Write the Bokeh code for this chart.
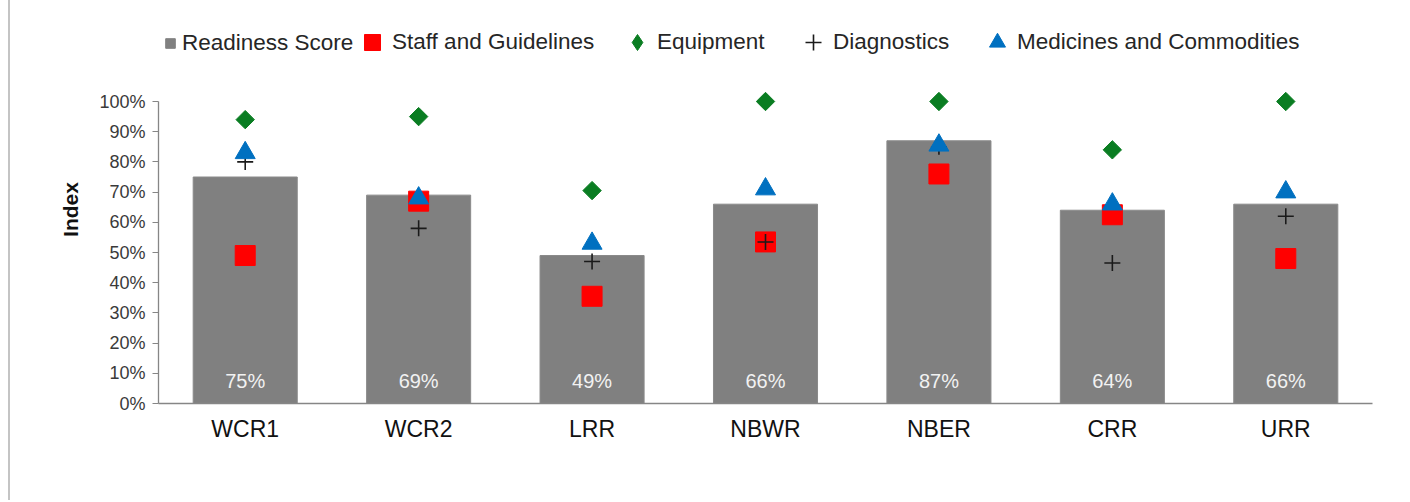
import numpy as np
from bokeh.plotting import figure
from bokeh.models import (FactorRange, Legend, LegendItem, NumeralTickFormatter,
                          FixedTicker, ColumnDataSource)
from bokeh.core.properties import value
from bokeh.embed import file_html
from bokeh.resources import INLINE

regions = ["WCR1", "WCR2", "LRR", "NBWR", "NBER", "CRR", "URR"]
readiness = [0.75, 0.69, 0.49, 0.66, 0.87, 0.64, 0.66]
staff = [0.49, 0.67, 0.355, 0.535, 0.76, 0.625, 0.48]
equipment = [0.94, 0.95, 0.705, 1.00, 1.00, 0.84, 1.00]
diagnostics = [0.80, 0.58, 0.47, 0.535, 0.85, 0.465, 0.62]
medicines = [0.83, 0.68, 0.53, 0.71, 0.855, 0.66, 0.70]
y_ticks = [0.0, 0.1, 0.2, 0.3, 0.4, 0.5, 0.6, 0.7, 0.8, 0.9, 1.0]
series_names = ["Readiness Score", "Staff and Guidelines", "Equipment",
                "Diagnostics", "Medicines and Commodities"]

FONT = "Liberation Sans"
W, H = 1400, 500
GRAY, RED, GREEN, BLUE, BLACK = "#808080", "#ff0000", "#0a7d22", "#0070c0", "#1a1a1a"

src = ColumnDataSource(dict(
    x=regions, readiness=readiness, staff=staff, equipment=equipment,
    diagnostics=diagnostics, medicines=medicines,
    lbl=[f"{v:.0%}" for v in readiness],
))

p = figure(x_range=FactorRange(*regions, range_padding=0), y_range=(0, 1.2848),
           width=W, height=H, output_backend="svg", toolbar_location=None,
           min_border_left=148, min_border_right=38, min_border_top=15,
           min_border_bottom=97)
p.styles = {"border-left": "2px solid #c4c4c4", "margin-left": "8px"}
p.outline_line_color = None
p.xgrid.visible = False
p.ygrid.visible = False
p.background_fill_color = "white"
p.border_fill_color = "white"

p.vbar(x="x", top="readiness", width=0.6, source=src,
       fill_color=GRAY, line_color="#8a8a8a", line_width=1)
p.text(x="x", y=0, text="lbl", source=src, y_offset=-23,
       text_align="center", text_baseline="middle", text_color="#f2f2f2",
       text_font=value(FONT), text_font_size="20px")

p.scatter(x="x", y="staff", source=src, marker="square", size=20,
          fill_color=RED, line_color=RED)
p.scatter(x="x", y="equipment", source=src, marker="square", size=13,
          angle=np.pi / 4, fill_color=GREEN, line_color=GREEN)
p.scatter(x="x", y="diagnostics", source=src, marker="cross", size=16,
          line_color=BLACK, line_width=1.6)
p.scatter(x="x", y="medicines", source=src, marker="triangle", size=20,
          fill_color=BLUE, line_color=BLUE)

# hidden renderers used only as legend swatches
k_bar = p.scatter(x="x", y="readiness", source=src, marker="square",
                  fill_color=GRAY, line_color=GRAY, visible=False)
k_staff = p.scatter(x="x", y="staff", source=src, marker="square",
                    fill_color=RED, line_color=RED, visible=False)
k_equip = p.scatter(x="x", y="equipment", source=src, marker="diamond",
                    fill_color=GREEN, line_color=GREEN, visible=False)
k_diag = p.scatter(x="x", y="diagnostics", source=src, marker="cross",
                   line_color=BLACK, line_width=1.6, visible=False)
k_med = p.scatter(x="x", y="medicines", source=src, marker="triangle",
                  fill_color=BLUE, line_color=BLUE, visible=False)
keys = [k_bar, k_staff, k_equip, k_diag, k_med]

yax = p.yaxis[0]
yax.ticker = FixedTicker(ticks=y_ticks)
yax.formatter = NumeralTickFormatter(format="0%")
yax.bounds = (0, 1)
yax.axis_line_color = "#868686"
yax.axis_line_width = 1.3
yax.major_tick_line_color = "#868686"
yax.major_tick_out = 6
yax.major_tick_in = 0
yax.minor_tick_line_color = None
yax.major_label_text_font = FONT
yax.major_label_text_font_size = "18px"
yax.major_label_text_color = "#3a3a3a"
yax.major_label_standoff = 7
yax.axis_label = "Index"
yax.axis_label_text_font = FONT
yax.axis_label_text_font_size = "21px"
yax.axis_label_text_font_style = "bold"
yax.axis_label_text_color = "#111111"
yax.axis_label_standoff = 14

xax = p.xaxis[0]
xax.axis_line_color = "#868686"
xax.axis_line_width = 1.3
xax.major_tick_line_color = None
xax.major_tick_out = 0
xax.minor_tick_line_color = None
xax.major_label_text_font = FONT
xax.major_label_text_font_size = "23px"
xax.major_label_text_color = "#111111"
xax.major_label_standoff = 12

# one single-item legend per series, placed inside the (tall, invisible) frame
legend_specs = [(24, 0, 347), (40, 194, 341), (40, 459, 341),
                (40, 635, 341), (40, 819, 341)]
for name, rend, (g, vx, vy) in zip(series_names, keys, legend_specs):
    lg = Legend(items=[LegendItem(label=name, renderers=[rend])],
                location=(vx, vy), orientation="horizontal",
                glyph_width=g, glyph_height=g, label_standoff=0,
                padding=0, margin=0, spacing=0, border_line_color=None,
                background_fill_alpha=0, inactive_fill_alpha=0,
                label_text_font=FONT, label_text_font_size="22.5px",
                label_text_color="#262626")
    p.add_layout(lg, "center")

open("out.html", "w").write(file_html(p, INLINE))
